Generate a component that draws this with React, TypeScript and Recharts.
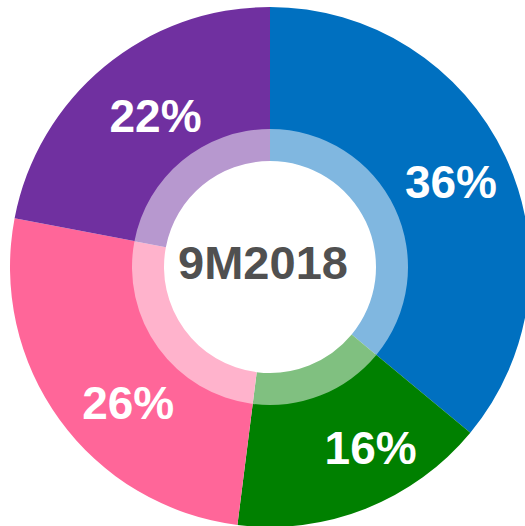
import { PieChart, Pie, Cell } from 'recharts';

const SEGMENTS = ['A', 'B', 'C', 'D'];
const VALUES = [36, 16, 26, 22];
const COLORS = ['#0070C0', '#008000', '#FF6699', '#7030A0'];
const LIGHT_COLORS = ['#80B7E0', '#80C080', '#FFB3CC', '#B798CF'];
const CENTER_TEXT = '9M2018';

const data = SEGMENTS.map((name, i) => ({ name, value: VALUES[i] }));

const FONT = '"Liberation Sans", Arial, sans-serif';
const RADIAN = Math.PI / 180;
const CX = 270;
const CY = 267;

// labels in the source sit a bit off the slice mid-angle, nudge them
const LABEL_NUDGE = [
  [0, 0],
  [27, -5],
  [20, 18],
  [13, 3],
];

interface LabelProps {
  cx: number;
  cy: number;
  midAngle: number;
  value: number;
  index: number;
}

function renderPercent({ cx, cy, midAngle, value, index }: LabelProps) {
  const r = 200;
  const x = cx + r * Math.cos(-midAngle * RADIAN) + LABEL_NUDGE[index][0];
  const y = cy + r * Math.sin(-midAngle * RADIAN) + LABEL_NUDGE[index][1];
  return (
    <text
      x={x}
      y={y}
      fill="#ffffff"
      textAnchor="middle"
      dominantBaseline="central"
      fontFamily={FONT}
      fontWeight="bold"
      fontSize={46}
    >
      {`${value}%`}
    </text>
  );
}

export default function App() {
  return (
    <div style={{ position: 'fixed', left: 0, top: 0, width: 525, height: 526, background: '#fff' }}>
      <PieChart width={525} height={526} margin={{ top: 0, right: 0, bottom: 0, left: 0 }}>
        <Pie
          data={data}
          dataKey="value"
          cx={CX}
          cy={CY}
          innerRadius={137}
          outerRadius={260}
          startAngle={90}
          endAngle={-270}
          stroke="none"
          labelLine={false}
          label={renderPercent}
          isAnimationActive={false}
        >
          {data.map((d, i) => (
            <Cell key={d.name} fill={COLORS[i]} />
          ))}
        </Pie>
        <Pie
          data={data}
          dataKey="value"
          cx={CX}
          cy={CY}
          innerRadius={106}
          outerRadius={138}
          startAngle={90}
          endAngle={-270}
          stroke="none"
          isAnimationActive={false}
        >
          {data.map((d, i) => (
            <Cell key={d.name} fill={LIGHT_COLORS[i]} />
          ))}
        </Pie>
      </PieChart>
      <div
        style={{
          position: 'absolute',
          left: CX - 117,
          top: CY - 34,
          width: 220,
          height: 60,
          lineHeight: '60px',
          textAlign: 'center',
          fontFamily: FONT,
          fontWeight: 'bold',
          fontSize: 47,
          color: '#505050',
        }}
      >
        {CENTER_TEXT}
      </div>
    </div>
  );
}
